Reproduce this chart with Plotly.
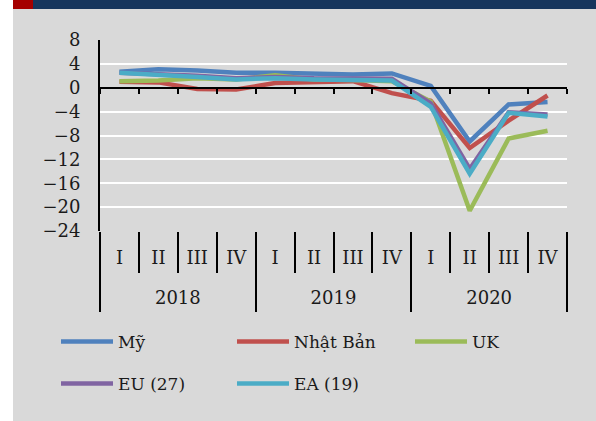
import plotly.graph_objects as go

years = ['2018'] * 4 + ['2019'] * 4 + ['2020'] * 4
quarters = ['I', 'II', 'III', 'IV'] * 3
year_labels = ['2018', '2019', '2020']

my = [2.7, 3.1, 2.9, 2.5, 2.5, 2.3, 2.2, 2.4, 0.3, -9.0, -2.8, -2.4]
nhat_ban = [1.0, 0.9, -0.2, -0.3, 0.8, 0.9, 1.1, -0.9, -2.2, -10.1, -5.5, -1.3]
uk = [1.1, 1.2, 1.6, 1.4, 2.1, 1.4, 1.3, 1.1, -2.3, -20.6, -8.5, -7.2]
eu27 = [2.5, 2.3, 2.0, 1.6, 1.8, 1.6, 1.6, 1.5, -2.6, -13.6, -4.1, -4.5]
ea19 = [2.5, 2.2, 1.8, 1.4, 1.6, 1.4, 1.3, 1.2, -3.2, -14.4, -4.2, -4.8]

series = [
    ('Mỹ', my, '#4F81BD'),
    ('Nhật Bản', nhat_ban, '#C0504D'),
    ('UK', uk, '#9BBB59'),
    ('EU (27)', eu27, '#8064A2'),
    ('EA (19)', ea19, '#4BACC6'),
]

FONT = 'DejaVu Serif'

# unique category per quarter, shown as I..IV
cats = [y + ' ' + q for y, q in zip(years, quarters)]
n = len(cats)
per_year = n // len(year_labels)

# pixel -> paper helpers (plot area 100..567 x 40..231)
def px(p):
    return (p - 100) / 467

def py(p):
    return (231 - p) / 191

# legend slots (line start x, row centre y) like the Excel legend
legend_pos = [(56, 342), (232, 342), (410, 342), (56, 384), (232, 384)]

fig = go.Figure()
legends = {}
for i, (name, vals, color) in enumerate(series):
    key = 'legend' if i == 0 else 'legend%d' % (i + 1)
    fig.add_trace(go.Scatter(
        x=cats, y=vals, name=name, mode='lines',
        line=dict(color=color, width=4.5), legend=key,
    ))
    lx, ly = legend_pos[i]
    legends[key] = dict(
        orientation='h', x=px(lx), y=py(ly), yanchor='middle', xanchor='left',
        bgcolor='rgba(0,0,0,0)', itemwidth=52, font=dict(size=17),
    )

# invisible helpers so the extra axes get drawn
for ax in ['x2', 'x3', 'x4']:
    fig.add_trace(go.Scatter(
        x=[0, n], y=[0, 0], xaxis=ax, mode='markers',
        marker=dict(opacity=0), showlegend=False, hoverinfo='skip',
    ))

fig.update_layout(
    width=596, height=421,
    margin=dict(l=100, r=29, t=40, b=190),
    paper_bgcolor='#d9d9d9', plot_bgcolor='#d9d9d9',
    font=dict(family=FONT, size=18, color='#1a1a1a'),
    showlegend=True,
    # quarter labels
    xaxis=dict(
        type='category', categoryarray=cats, range=[-0.5, n - 0.5],
        tickvals=cats, ticktext=quarters, ticks='',
        showgrid=False, zeroline=False, showline=False,
        ticklabelstandoff=14,
    ),
    # axis line with tick marks at y = 0
    xaxis2=dict(
        type='linear', overlaying='x', anchor='free', position=0.75,
        range=[0, n], tickvals=list(range(n + 1)), ticks='outside',
        ticklen=5, tickwidth=2, tickcolor='black', showline=True,
        linecolor='black', linewidth=2, showticklabels=False,
        showgrid=False, zeroline=False,
    ),
    # year labels + short quarter dividers
    xaxis3=dict(
        type='linear', overlaying='x', anchor='y', side='bottom',
        range=[0, n],
        tickvals=[i * per_year + per_year / 2 for i in range(len(year_labels))],
        ticktext=year_labels, ticks='', showgrid=False, zeroline=False,
        showline=False, ticklabelstandoff=54,
        minor=dict(tickvals=list(range(n + 1)), ticks='outside', ticklen=41,
                   tickwidth=2, tickcolor='black', showgrid=False),
    ),
    # long year dividers
    xaxis4=dict(
        type='linear', overlaying='x', anchor='y', side='bottom',
        range=[0, n],
        tickvals=[i * per_year for i in range(len(year_labels) + 1)],
        ticks='outside', ticklen=80, tickwidth=2, tickcolor='black',
        showticklabels=False, showgrid=False, zeroline=False, showline=False,
    ),
    yaxis=dict(
        range=[-24, 8], dtick=4, showgrid=True, gridcolor='white',
        gridwidth=2, zeroline=False, showline=True, linecolor='black',
        linewidth=2, ticks='', ticklabelstandoff=14,
    ),
    shapes=[
        dict(type='rect', xref='paper', yref='paper', x0=px(0), x1=px(13),
             y0=py(421), y1=py(0), fillcolor='white', line_width=0, layer='below'),
        dict(type='rect', xref='paper', yref='paper', x0=px(13), x1=px(33),
             y0=py(9), y1=py(0), fillcolor='#a50000', line_width=0),
        dict(type='rect', xref='paper', yref='paper', x0=px(33), x1=px(596),
             y0=py(9), y1=py(0), fillcolor='#17365d', line_width=0),
    ],
    **legends,
)

fig.write_html('out.html', config={'displayModeBar': False},
               post_script="document.body.style.margin='0';")
